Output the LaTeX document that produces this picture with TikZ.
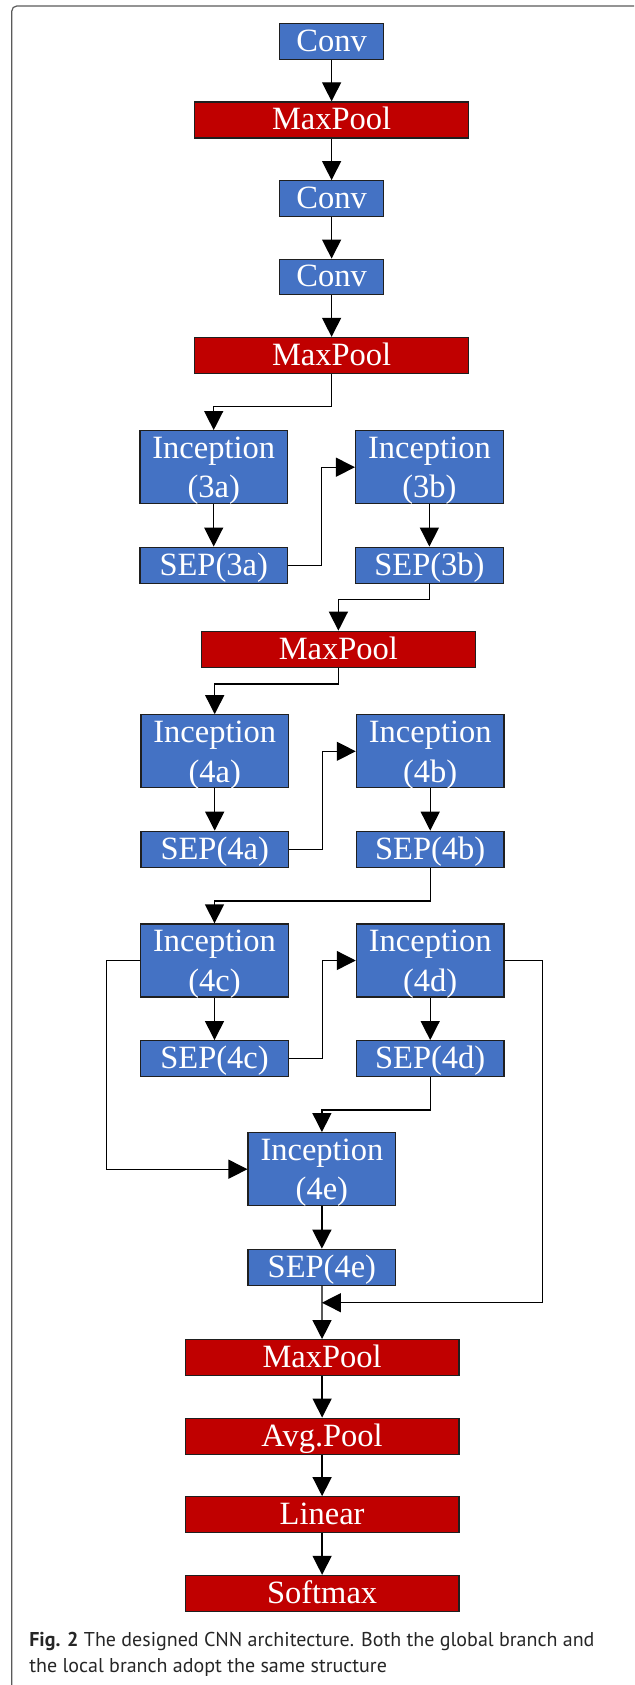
\documentclass[tikz,border=0pt]{standalone}
\usepackage{fontspec}
\setmainfont{Liberation Serif}
\newfontfamily\capfont{PT Sans}
\usetikzlibrary{arrows.meta}

\definecolor{layerblue}{HTML}{4472C4}
\definecolor{layerred}{HTML}{C00000}
\definecolor{framegray}{HTML}{5A5A5A}

% two-line label, reference point on the first baseline
\newcommand\twoline[2]{\begin{tabular}[t]{@{}c@{}}#1\\#2\end{tabular}}

\begin{document}
\begin{tikzpicture}[x=1pt, y=-1pt,
  blk/.style={draw=black!88, line width=1.3pt, text=white, inner sep=0pt,
    font=\fontsize{32.5pt}{39.4pt}\selectfont, text height=21pt, text depth=1pt},
  convbox/.style={blk, fill=layerblue, minimum width=104.3pt, minimum height=35.5pt},
  poolbox/.style={blk, fill=layerred, minimum width=273.7pt, minimum height=36pt},
  sepbox/.style={blk, fill=layerblue, minimum width=147.6pt, minimum height=36pt},
  incbox/.style={blk, fill=layerblue, minimum width=147.6pt, minimum height=73pt,
    text height=0pt, text depth=17.4pt},
  link/.style={line width=1.3pt, -{Triangle[length=19pt, width=19pt]}},
  capline/.style={anchor=base west, inner sep=0pt, text=black!85,
    font=\capfont\fontsize{20pt}{26pt}\selectfont}
]
\useasboundingbox (0,0) rectangle (634,1685);

% page frame
\draw[framegray, line width=1.2pt, rounded corners=5pt]
  (634,6) -- (11.8,6) -- (11.8,1685);

% stem
\node[convbox] (conv1) at (331.6,41.5) {Conv};
\node[poolbox] (mp1)   at (331.6,120)  {MaxPool};
\node[convbox] (conv2) at (331.6,198.5) {Conv};
\node[convbox] (conv3) at (331.6,277)  {Conv};
\node[poolbox] (mp2)   at (331.6,355.5) {MaxPool};

% inception 3
\node[incbox] (i3a)   at (213.7,467.2) {\twoline{Inception}{(3a)}};
\node[sepbox] (sep3a) at (213.7,565.2) {SEP(3a)};
\node[incbox] (i3b)   at (429.4,467.2) {\twoline{Inception}{(3b)}};
\node[sepbox] (sep3b) at (429.4,565.2) {SEP(3b)};
\node[poolbox] (mp3)  at (338.4,649.3) {MaxPool};

% inception 4a / 4b
\node[incbox] (i4a)   at (214.7,751.3) {\twoline{Inception}{(4a)}};
\node[sepbox] (sep4a) at (214.7,849.3) {SEP(4a)};
\node[incbox] (i4b)   at (430.2,751.3) {\twoline{Inception}{(4b)}};
\node[sepbox] (sep4b) at (430.2,849.3) {SEP(4b)};

% inception 4c / 4d / 4e
\node[incbox] (i4c)   at (214.5,960.5) {\twoline{Inception}{(4c)}};
\node[sepbox] (sep4c) at (214.5,1058.7) {SEP(4c)};
\node[incbox] (i4d)   at (430.2,960.5) {\twoline{Inception}{(4d)}};
\node[sepbox] (sep4d) at (430.2,1058.7) {SEP(4d)};
\node[incbox] (i4e)   at (321.9,1169.2) {\twoline{Inception}{(4e)}};
\node[sepbox] (sep4e) at (321.9,1267.3) {SEP(4e)};

% head
\node[poolbox] (mp4)  at (322.1,1357.7) {MaxPool};
\node[poolbox] (avg)  at (322.1,1436.2) {Avg.Pool};
\node[poolbox] (lin)  at (322.1,1514.8) {Linear};
\node[poolbox] (soft) at (322.1,1593.5) {Softmax};

% routing levels for elbow connectors
\coordinate (r1) at (0,406.7);
\coordinate (r2) at (321.4,0);
\coordinate (r3) at (0,599.3);
\coordinate (r4) at (0,684);
\coordinate (r5) at (322.3,0);
\coordinate (r6) at (0,901);
\coordinate (r7) at (322.3,0);
\coordinate (r8) at (106.7,0);
\coordinate (r9) at (0,1110);
\coordinate (r10) at (542.6,0);
\coordinate (merge) at (321.9,1302.7);

% connectors
\draw[link] (conv1) -- (mp1);
\draw[link] (mp1) -- (conv2);
\draw[link] (conv2) -- (conv3);
\draw[link] (conv3) -- (mp2);
\draw[link] (mp2.south) -- (mp2.south |- r1) -| (i3a.north);
\draw[link] (i3a) -- (sep3a);
\draw[link] (sep3a.east) -| (r2 |- i3b.west) -- (i3b.west);
\draw[link] (i3b) -- (sep3b);
\draw[link] (sep3b.south) -- (sep3b.south |- r3) -| (mp3.north);
\draw[link] (mp3.south) -- (mp3.south |- r4) -| (i4a.north);
\draw[link] (i4a) -- (sep4a);
\draw[link] (sep4a.east) -| (r5 |- i4b.west) -- (i4b.west);
\draw[link] (i4b) -- (sep4b);
\draw[link] (sep4b.south) -- (sep4b.south |- r6) -| (i4c.north);
\draw[link] (i4c) -- (sep4c);
\draw[link] (sep4c.east) -| (r7 |- i4d.west) -- (i4d.west);
\draw[link] (i4d) -- (sep4d);
\draw[link] (i4c.west) -| (r8 |- i4e.west) -- (i4e.west);
\draw[link] (sep4d.south) -- (sep4d.south |- r9) -| (i4e.north);
\draw[link] (i4e) -- (sep4e);
\draw[link] (i4d.east) -| (r10 |- merge) -- (merge);
\draw[link] (sep4e) -- (mp4);
\draw[link] (mp4) -- (avg);
\draw[link] (avg) -- (lin);
\draw[link] (lin) -- (soft);

% caption
\node[capline] (cap1) at (29.1,1646)
  {\textbf{Fig. 2} The designed CNN architecture. Both the global branch and};
\node[capline] (cap2) at (29.1,1672)
  {the local branch adopt the same structure};
\end{tikzpicture}
\end{document}
